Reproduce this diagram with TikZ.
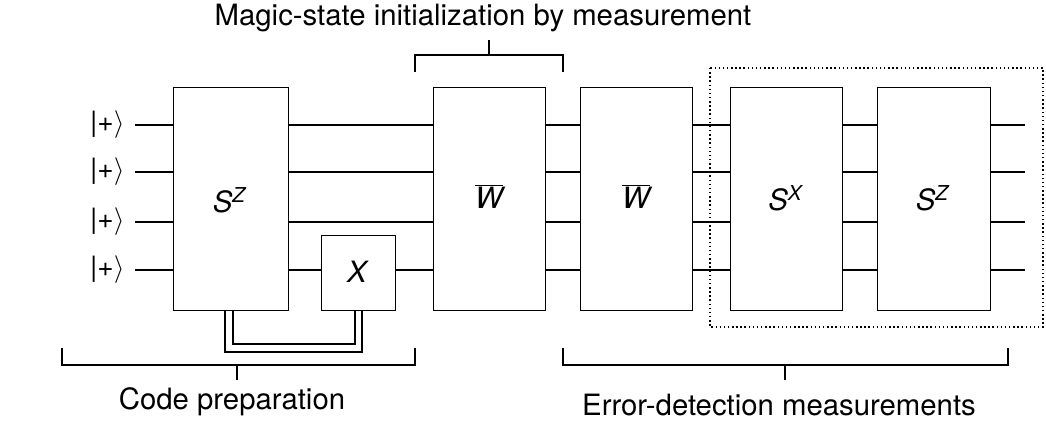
\documentclass[tikz,border=0pt]{standalone}
\usepackage{fontspec}
\setmainfont{TeX Gyre Heros}
\begin{document}
\begin{tikzpicture}[x=0.75pt,y=-0.75pt,line width=1.1pt,
  box/.style={draw,fill=white,inner sep=0pt,anchor=north west},
  lbl/.style={font=\fontsize{22}{26}\selectfont},
  ket/.style={font=\fontsize{21}{25}\selectfont}]
\useasboundingbox (0,0) rectangle (1046,426);
% wires
\foreach \y in {125,172,222,270}{
  \draw (135,\y) -- (1025,\y);
}
\foreach \y/\n in {125/k1,172/k2,222/k3,270/k4}{
  \node[ket,anchor=east,inner sep=2pt] (\n) at (128,\y) {|+$\rangle$};
}
\draw[dotted,line width=1.1pt] (710,68) rectangle (1043,327);
\node[box,minimum width=115*0.75pt,minimum height=223*0.75pt] (sz1) at (173,87) {};
\node[lbl] at (230,200) {\textit{S}\textsuperscript{\textit{Z}}};
\node[box,minimum width=74*0.75pt,minimum height=75*0.75pt] (x) at (321,235) {};
\node[lbl] at (358,272) {\textit{X}};
\node[box,minimum width=112*0.75pt,minimum height=223*0.75pt] (w1) at (433,87) {};
\node[lbl] at (489,196) {$\overline{\textit{W}}$};
\node[box,minimum width=112*0.75pt,minimum height=223*0.75pt] (w2) at (580,87) {};
\node[lbl] at (636,196) {$\overline{\textit{W}}$};
\node[box,minimum width=112*0.75pt,minimum height=223*0.75pt] (sx) at (730,87) {};
\node[lbl] at (786,198) {\textit{S}\textsuperscript{\textit{X}}};
\node[box,minimum width=113*0.75pt,minimum height=223*0.75pt] (sz2) at (877,87) {};
\node[lbl] at (933,198) {\textit{S}\textsuperscript{\textit{Z}}};
% classical double wire
\draw (225,310) -- (225,352) -- (362,352) -- (362,310);
\draw (233,310) -- (233,344) -- (355,344) -- (355,310);
% brackets
\draw (415,72) -- (415,55) -- (563,55) -- (563,72) (489,55) -- (489,40);
\node[lbl] (t1) at (483,18) {Magic-state initialization by measurement};
\draw (62,348) -- (62,365) -- (415,365) -- (415,348) (237,365) -- (237,380);
\node[lbl] (t2) at (232,402) {Code preparation};
\draw (563,348) -- (563,365) -- (1008,365) -- (1008,348) (785,365) -- (785,380);
\node[lbl] (t3) at (779,405) {Error-detection measurements};
\end{tikzpicture}
\end{document}
